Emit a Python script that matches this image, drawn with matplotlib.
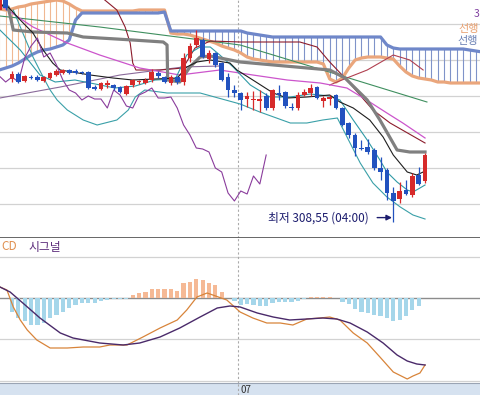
import numpy as np
import matplotlib
matplotlib.use('Agg')
import matplotlib.pyplot as plt

plt.rcParams['font.family'] = ['Noto Sans CJK KR', 'DejaVu Sans']

# candles, one per period (index 0..67)
opens = [361.5, 364.75, 344.25, 345.5, 343.75, 344.75, 344.75, 343.75, 344.5, 345.25,
         345.75, 346.5, 346.25, 346, 346, 342.25, 341.75, 342.75, 342.75, 342.25,
         340.5, 342.75, 343.5, 343.25, 344, 345.75, 344.75, 343.25, 344.75, 343.5,
         349.5, 352.75, 354, 349.25, 350.75, 348.25, 344.75, 341.5, 340.75, 339.25,
         339, 338.75, 340, 337, 340.75, 341, 337.25, 337, 340.25, 340.75,
         342.25, 338.75, 339.25, 340.25, 337, 333.25, 330.25, 327, 327.25, 326.5,
         322, 321.5, 315.75, 314.25, 316.5, 315.25, 320.25, 318.75]
highs = [366.5, 366, 346.25, 346, 345.25, 345.25, 345.25, 345, 346, 346.75,
         346.75, 346.75, 346.75, 346.25, 346.25, 342.75, 343.5, 344, 343, 342.5,
         342.75, 344.25, 344, 344.5, 346.75, 346.25, 345, 345.25, 345, 350.75,
         353.25, 356.5, 354.5, 351.5, 351, 348.5, 345.75, 342.75, 341, 341,
         341.25, 341.5, 340.75, 341.75, 342.75, 341.25, 338.25, 341, 341.75, 343,
         342.5, 340, 340.25, 340.5, 337.25, 333.5, 330.75, 329, 329.25, 327,
         324.75, 322, 317.25, 318.5, 319, 320.75, 322.25, 325.75]
lows = [361.5, 361.5, 343.5, 343.25, 343.5, 344.25, 343.75, 343.5, 344.25, 345,
        345.5, 345.5, 345.5, 345.5, 341.75, 341.5, 341.5, 342, 341.5, 340.75,
        340.25, 342.25, 343, 343, 343.5, 344.5, 343.25, 342.75, 343, 342.75,
        348.5, 352.25, 349.5, 348.25, 347.25, 343.75, 339.75, 339.75, 336.5, 337.25,
        336.5, 336, 336.5, 336.5, 339, 337, 336.5, 336.5, 340, 340,
        339.25, 337.25, 337.75, 336.75, 332.5, 329.5, 325, 326.5, 325.5, 321.5,
        319, 314, 308.5, 313.25, 315.25, 314.75, 317.75, 318.25]
closes = [365.25, 362, 345.5, 343.5, 345, 344.5, 344, 344.75, 345.75, 346.25,
          346.5, 345.75, 345.75, 345.75, 342, 341.75, 343.25, 343.25, 342, 341,
          342.5, 344, 343.75, 344, 346, 345, 343.5, 344.75, 343.5, 349.5,
          352.5, 354.5, 349.75, 350.75, 347.75, 344, 341.5, 340.75, 339, 340,
          339.25, 339.25, 337, 341.5, 340.25, 337.5, 337, 340.25, 341, 342,
          339.5, 339.5, 339.75, 337, 332.75, 330.25, 327, 326.75, 326, 322,
          321, 315.75, 313.75, 316.25, 315.5, 320, 318, 325.25]

# ichimoku leading spans (index 0..76, shifted ahead of the last candle)
span_a = ([361.75, 361.5, 361.75, 362.25, 362.5, 363, 363.25, 363.5, 363.75, 364,
           363.75, 363, 362] + [361.25] * 9 + [361.5] * 5 +
          [355.75, 355.5, 355.5, 355.25, 354.75, 354.25, 353.75, 353.25, 352.5, 352,
           351.5, 350.75, 349.75, 349.25, 349, 348.75] + [348.5] * 8 +
          [348, 344.25, 343.5, 344.5, 347, 349, 349.5, 349.75, 349.75, 349.75,
           349.5, 349.25, 347.5, 346, 345, 344.5, 344.25, 344, 343.5, 343.5] +
          [343.25] * 6)
span_b = ([346.5, 347, 347.5, 348.25, 349.25, 350.25, 351, 351.5, 351.75, 352.25,
           352.75, 354, 359] + [360.75] * 13 + [361] + [356.25] * 12 +
          [355.75, 355.5, 355.25, 355] + [354.75] * 18 + [352.75, 352] +
          [351.75] * 11 + [351.5, 351.25, 351])
lag_shift = 25

# other indicator lines read as (index, price) points
kijun_i = [0.1, 1.4, 2.2, 5.3, 10.7, 13.2, 21.0, 25.8, 26.4, 26.5, 28.4, 30.0, 31.6,
           33.2, 37.9, 52.0, 54.4, 57.9, 59.9, 62.6, 64.6, 67.0]
kijun_p = [362.75, 362.25, 356.5, 356, 355.75, 354.75, 354, 353.5, 352.75, 344, 343.5,
           347.25, 349.75, 350, 348.5, 346.5, 344.5, 339, 334, 326.5, 326, 326]
tenkan_i = [0.1, 1.4, 3.3, 5.3, 6.9, 8.4, 9.6, 14.3, 17.9, 21.0, 28.0, 29.5, 31.1, 33.2,
            36.3, 37.4, 39.9, 43.1, 45.3, 48.4, 52.0, 53.6, 55.7, 58.3, 60.4, 62.0,
            64.2, 65.7, 66.7]
tenkan_p = [362.75, 362.25, 359, 355.75, 351.5, 348.25, 346.5, 345.25, 344.5, 344,
            344.5, 347.25, 348.5, 349, 348.25, 346.5, 344, 340.75, 339.5, 339.75,
            340.25, 338.5, 337, 334, 329.75, 325.25, 321, 320.25, 321]
green_i = [0.1, 15.8, 37.9, 50.9, 67.3]
green_p = [360, 357.25, 352.75, 346.5, 338.5]
magenta_i = [0.1, 5.3, 10.7, 15.8, 22.1, 28.4, 34.7, 39.9, 45.3, 50.5, 54.7, 58.3, 61.0,
             63.5, 67.0]
magenta_p = [362.75, 357.25, 353.25, 350.25, 347, 345.25, 346.5, 345.25, 344, 343.25,
             342, 338.5, 335.75, 333.25, 329.5]
maroon_i = [16.6, 18.5, 19.8, 20.6, 21.0, 21.5, 25.3, 28.9, 30.8, 33.2, 37.9, 47.3, 50.0,
            52.0, 54.7, 58.8, 61.5, 67.0]
maroon_p = [364, 361.5, 357.25, 353.25, 348.25, 346.5, 346.5, 347, 352, 353.75, 353.5,
            353.5, 352.25, 348.5, 344, 336.5, 333.25, 328.25]
maroon2_i = [52.0, 54.7, 57.9, 62.0, 64.6, 66.7]
maroon2_p = [342.75, 344.5, 346.5, 350.25, 349, 346.5]
violet_i = [0.1, 9.6, 19.0, 28.9, 34.7]
violet_p = [339.5, 342.25, 345.25, 347.25, 347.5]
bb_low_i = [2.2, 3.7, 5.3, 6.9, 8.0, 9.1, 10.7, 13.2, 15.4, 18.5, 20.3, 21.4, 22.9, 26.4,
            31.6, 37.9, 41.0, 45.8, 48.4, 50.9, 53.2, 55.2, 56.8, 58.8, 61.0, 63.1,
            65.1, 67.0]
bb_low_p = [361.5, 355.75, 349.75, 344.75, 341.5, 339, 336.5, 334, 332.75, 334, 336.5,
            339.75, 341.5, 340.75, 340.75, 338, 336, 333.25, 333.25, 334, 334.5, 328.25,
            323.25, 318.25, 314.75, 312.25, 310.25, 309.25]
ma5_i = [0.1, 3.3, 6.4, 8.8, 11.9, 15.1, 18.2, 21.4, 24.5, 27.7, 29.5, 31.6, 33.2, 34.7,
         36.8, 39.5, 42.6, 45.8, 48.9, 52.0, 53.6, 55.7, 57.9, 59.9, 61.0, 62.6, 64.2,
         65.1, 66.2, 67.0]
ma5_p = [356.5, 351.5, 345.25, 343.5, 344, 343, 342, 342.5, 344, 344.25, 350.25, 352.25,
         352.25, 350.25, 347.25, 342.75, 339.75, 339.75, 340.5, 340, 339, 334, 329, 324,
         321, 318.5, 316.5, 316, 317, 317.75]

# MACD panel
hist = [0, 0, -1.4, -2.0, -2.3, -2.7, -2.7, -2.5, -2.0, -1.7, -1.4, -1.0,
        -0.7, -0.5, -0.5, -0.5, -0.3, -0.15, -0.1, -0.05, -0.05, 0.3,
        0.5, 0.6, 0.9, 0.9, 0.9, 0.9, 0.7, 1.5, 1.6, 1.9,
        1.8, 1.5, 1.3, 0.6, 0.05, -0.3, -0.7, -0.6, -0.7, -0.8,
        -0.8, -0.5, -0.4, -0.4, -0.4, -0.3, -0.1, 0.1, 0.1, 0.1,
        0.1, 0.05, -0.4, -0.6, -1.1, -1.4, -1.5, -1.7, -1.8, -2.0,
        -2.3, -2.2, -1.8, -1.2, -0.8, 0]
macd_i = [0.1, 1.2, 2.2, 3.3, 4.4, 5.9, 8.0, 10.7, 13.2, 15.8, 17.4, 20.1, 22.6, 25.3,
          28.0, 29.5, 31.1, 32.7, 33.6, 35.8, 37.9, 39.9, 42.1, 44.2, 46.2, 48.4, 50.5,
          52.0, 53.6, 55.7, 57.9, 59.9, 62.0, 64.2, 65.1, 66.2, 67.0]
macd_v = [1.1, 0.8, -0.9, -2.2, -3.2, -4.2, -5.0, -5.0, -4.9, -4.9, -4.7, -4.7, -3.9,
          -3.0, -2.2, -1.2, 0.1, 0.5, 0.3, -0.2, -1.4, -2.0, -2.5, -2.5, -2.7, -2.1,
          -2.0, -1.9, -2.2, -3.5, -4.5, -5.9, -7.4, -8.1, -7.8, -7.5, -6.7]
signal_i = [0.1, 1.7, 3.7, 6.4, 9.6, 11.6, 15.8, 19.5, 22.1, 25.3, 28.4, 31.6, 34.3,
            36.3, 37.9, 40.6, 43.1, 45.7, 48.4, 50.9, 53.1, 55.2, 57.9, 60.4, 62.6,
            64.2, 65.7, 67.0]
signal_v = [1.1, 0.6, -0.5, -2.0, -3.5, -4.0, -4.5, -4.7, -4.5, -3.9, -3.0, -1.9, -1.0,
            -0.8, -0.9, -1.5, -1.9, -2.2, -2.1, -2.0, -2.1, -2.5, -3.4, -4.5, -5.7,
            -6.3, -6.6, -6.7]

W, H = 480, 395
fig = plt.figure(figsize=(4.8, 3.95), dpi=100)
ax = fig.add_axes([0, 1 - 238 / H, 1, 238 / H])
ax2 = fig.add_axes([0, 12 / H, 1, 145 / H])
ax3 = fig.add_axes([0, 0, 1, 12 / H])

xlim = (0.11, 75.65)
for a in (ax, ax2, ax3):
    a.set_xlim(*xlim)
    a.tick_params(length=0, labelleft=False, labelbottom=False)
    for s in a.spines.values():
        s.set_visible(False)
    a.axvline(37.55, color='#aaaaaa', lw=0.8, ls=(0, (2, 2)), zorder=1)

# price panel
ax.set_ylim(304.5, 364)
ax.set_yticks([313, 322, 331, 340, 349, 358])
ax.set_xticks([])
ax.grid(axis='y', color='#d2d2d2', lw=0.9)
ax.set_axisbelow(True)
ax.spines['bottom'].set_visible(True)
ax.spines['bottom'].set_color('#5a5a5a')
ax.spines['bottom'].set_linewidth(1.3)

idx_c = np.arange(len(span_a))
sa = np.array(span_a)
sb = np.array(span_b)
hatch_col = np.where(sa >= sb, '#f0b892', '#7f93c9')
ax.vlines(idx_c, sa, sb, colors=hatch_col, lw=0.8, zorder=2)
ax.plot(idx_c, sa, color='#eaa67c', lw=2.3, zorder=3)
ax.plot(idx_c, sb, color='#6f87c9', lw=2.3, zorder=3)

ax.plot(green_i, green_p, color='#3f8f5f', lw=0.8, zorder=3)
ax.plot(violet_i, violet_p, color='#8a6a9a', lw=0.8, zorder=3)
ax.plot(maroon_i, maroon_p, color='#8c1c2c', lw=0.8, zorder=3)
ax.plot(maroon2_i, maroon2_p, color='#b04050', lw=0.8, zorder=3)
ax.plot(magenta_i, magenta_p, color='#cc55cc', lw=0.9, zorder=3)
ax.plot(bb_low_i, bb_low_p, color='#3aa0a8', lw=0.8, zorder=3)
ax.plot(ma5_i, ma5_p, color='#2f9aa6', lw=0.8, zorder=3)
ax.plot(kijun_i, kijun_p, color='#808080', lw=2.3, zorder=4)
ax.plot(tenkan_i, tenkan_p, color='#1e1e1e', lw=0.8, zorder=4)

cl = np.array(closes)
lag_x = np.arange(lag_shift, len(cl)) - lag_shift
ax.plot(lag_x, cl[lag_shift:], color='#8a3c9c', lw=0.8, zorder=4)

# candles
o = np.array(opens)
c = np.array(closes)
x = np.arange(len(o))
up = c >= o
col = np.where(up, '#d62a2a', '#2252bf')
ax.vlines(x, lows, highs, colors=col, lw=0.9, zorder=5)
body = np.maximum(np.abs(c - o), 0.25)
ax.bar(x, body, bottom=np.minimum(o, c), width=0.74, color=col, zorder=6)

ax.annotate('최저 308,55 (04:00)', xy=(61.8, 309.6), xytext=(42.3, 309.6),
            va='center', ha='left', fontsize=8.5, color='#1c1c6e',
            arrowprops=dict(arrowstyle='-|>', color='#1c1c6e', lw=1.0,
                            shrinkA=4, shrinkB=0, mutation_scale=8), zorder=7)

# legend fragments at the right edge
fig.text(479 / W, 1 - 14 / H, '3', color='#8040a0', fontsize=7.5, va='center', ha='right')
fig.text(479 / W, 1 - 29 / H, '선행', color='#e8a070', fontsize=8, va='center', ha='right')
fig.text(478 / W, 1 - 41 / H, '선행', color='#6a80b4', fontsize=8, va='center', ha='right')

# MACD panel
ax2.set_ylim(-8.5, 6.0)
ax2.set_yticks([4.1, -4.1, -8.3])
ax2.set_xticks([])
ax2.grid(axis='y', color='#d2d2d2', lw=0.9)
ax2.set_axisbelow(True)
ax2.axhline(0, color='#8c8c8c', lw=1.0, zorder=1)
hv = np.array(hist)
hcol = np.where(hv >= 0, '#f5b995', '#a5d6ea')
ax2.bar(np.arange(len(hv)), hv, width=0.66, color=hcol, zorder=2)
ax2.plot(macd_i, macd_v, color='#d8843a', lw=0.9, zorder=3)
ax2.plot(signal_i, signal_v, color='#4a2a6a', lw=1.0, zorder=4)
fig.text(1 / W, 1 - 247 / H, 'CD', color='#e09050', fontsize=8.5, va='center')
fig.text(28 / W, 1 - 247 / H, '시그널', color='#5a2a7a', fontsize=8.5, va='center')

# date strip
ax3.set_facecolor('#d6e2f0')
ax3.set_ylim(0, 1)
ax3.set_xticks([])
ax3.spines['top'].set_visible(True)
ax3.spines['top'].set_color('#9aa4b4')
ax3.text(38.0, 0.45, '07', fontsize=7, color='#333333', va='center', ha='left')

fig.savefig('out.png', dpi=100)
